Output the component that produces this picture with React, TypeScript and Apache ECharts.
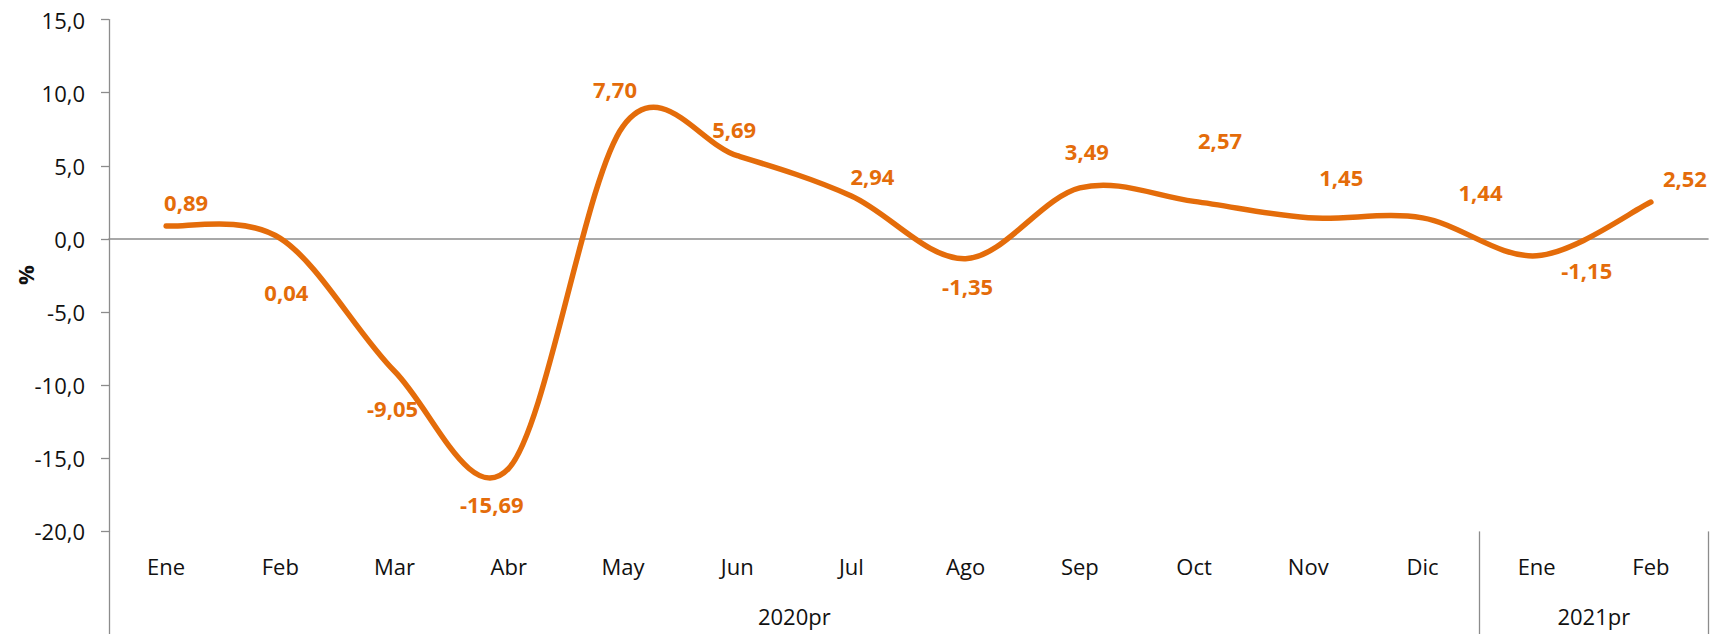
import React, { useEffect, useRef } from "react";
import * as echarts from "echarts";

const categories = ["Ene", "Feb", "Mar", "Abr", "May", "Jun", "Jul", "Ago", "Sep", "Oct", "Nov", "Dic", "Ene", "Feb"];
const values = [0.89, 0.04, -9.05, -15.69, 7.7, 5.69, 2.94, -1.35, 3.49, 2.57, 1.45, 1.44, -1.15, 2.52];
const yearLabels = ["2020pr", "2021pr"];
const yearCenters = [6, 13]; // positions in category units
const yearBoundaries = [0, 12, 14];
const yTicks = { min: -20, max: 15, interval: 5 };
const yAxisTitle = "%";

// label offsets (layout, px) relative to each point
const labelOffsets: [number, number][] = [
  [20, -24], [6, 54], [-2, 37], [-17, 36], [-8, -37], [-3, -27], [21, -20],
  [2, 27], [7, -37], [26, -61], [33, -41], [58, -26], [50, 14], [34, -24],
];

const ORANGE = "#E46C0A";
const GRAY = "#8C8C8C";
const FONT = "'Open Sans', 'Noto Sans', sans-serif";

const fmt = (v: number, d: number) => v.toFixed(d).replace(".", ",");

// Excel-like smoothed curve (Catmull-Rom style Bezier, tension 1/6) through axis-mapped points
function smoothPath(pts: number[][]): string {
  const n = pts.length;
  let d = `M${pts[0][0]},${pts[0][1]}`;
  for (let i = 0; i < n - 1; i++) {
    const p0 = pts[Math.max(i - 1, 0)];
    const p1 = pts[i];
    const p2 = pts[i + 1];
    const p3 = pts[Math.min(i + 2, n - 1)];
    const c1x = p1[0] + (p2[0] - p0[0]) / 6;
    const c1y = p1[1] + (p2[1] - p0[1]) / 6;
    const c2x = p2[0] - (p3[0] - p1[0]) / 6;
    const c2y = p2[1] - (p3[1] - p1[1]) / 6;
    d += ` C${c1x},${c1y} ${c2x},${c2y} ${p2[0]},${p2[1]}`;
  }
  return d;
}

export default function App() {
  const ref = useRef<HTMLDivElement>(null);
  useEffect(() => {
    if (!ref.current) return;
    const chart = echarts.init(ref.current, undefined, { renderer: "svg" });
    chart.setOption({
      animation: false,
      backgroundColor: "#ffffff",
      grid: { left: 109, right: 3, top: 19.6, bottom: 102.6, containLabel: false, outerBoundsMode: "none" },
      graphic: [
        {
          type: "text",
          x: 25,
          y: 275,
          rotation: Math.PI / 2,
          style: {
            text: yAxisTitle,
            fontFamily: FONT,
            fontSize: 22,
            fontWeight: "bold",
            fill: "#111",
            textAlign: "center",
            textVerticalAlign: "middle",
          },
        },
      ],
      xAxis: [
        {
          type: "category",
          data: categories,
          position: "bottom",
          boundaryGap: true,
          axisLine: { show: false, onZero: false },
          axisTick: { show: false },
          axisLabel: { margin: 24, fontFamily: FONT, fontSize: 22, color: "#111" },
          splitLine: { show: false },
        },
        {
          type: "value",
          min: 0,
          max: categories.length,
          position: "bottom",
          axisLine: { show: false, onZero: false },
          axisTick: { show: true, customValues: yearBoundaries, length: 104, lineStyle: { color: GRAY, width: 1.3 } },
          axisLabel: {
            customValues: yearCenters,
            margin: 74,
            fontFamily: FONT,
            fontSize: 22,
            color: "#111",
            formatter: (v: number) => {
              const i = yearCenters.indexOf(v);
              return i >= 0 ? yearLabels[i] : "";
            },
          },
          splitLine: { show: false },
        },
        {
          type: "category",
          data: categories,
          position: "bottom",
          axisLine: { show: true, onZero: true, lineStyle: { color: GRAY, width: 1.6 } },
          axisTick: { show: false },
          axisLabel: { show: false },
          splitLine: { show: false },
        },
      ],
      yAxis: {
        type: "value",
        min: yTicks.min,
        max: yTicks.max,
        interval: yTicks.interval,
        axisLine: { show: true, lineStyle: { color: GRAY, width: 1.3 } },
        axisTick: { show: true, length: 8, lineStyle: { color: GRAY, width: 1.3 } },
        axisLabel: { margin: 24, fontFamily: FONT, fontSize: 22, color: "#111", formatter: (v: number) => fmt(v, 1) },
        splitLine: { show: false },
      },
      series: [
        {
          type: "custom",
          xAxisIndex: 0,
          yAxisIndex: 0,
          silent: true,
          clip: false,
          z: 5,
          data: [[0, values[0]]],
          renderItem: (params: any, api: any) => {
            if (params.dataIndex !== 0) return null;
            const pts = values.map((v, i) => api.coord([i, v]));
            return {
              type: "path",
              shape: { pathData: smoothPath(pts) },
              style: { fill: "none", stroke: ORANGE, lineWidth: 5.5, lineCap: "round", lineJoin: "round" },
            };
          },
        },
        {
          type: "line",
          xAxisIndex: 0,
          yAxisIndex: 0,
          silent: true,
          symbol: "circle",
          symbolSize: 1,
          itemStyle: { color: ORANGE },
          lineStyle: { opacity: 0, width: 0 },
          z: 6,
          data: values.map((v, i) => ({
            value: v,
            label: { offset: labelOffsets[i] },
          })),
          label: {
            show: true,
            position: "inside",
            fontFamily: FONT,
            fontSize: 22,
            fontWeight: "bold",
            color: ORANGE,
            formatter: (p: any) => fmt(p.value, 2),
          },
        },
      ],
    });
    return () => chart.dispose();
  }, []);
  return <div ref={ref} style={{ position: "absolute", left: 0, top: 0, width: 1711, height: 634 }} />;
}
